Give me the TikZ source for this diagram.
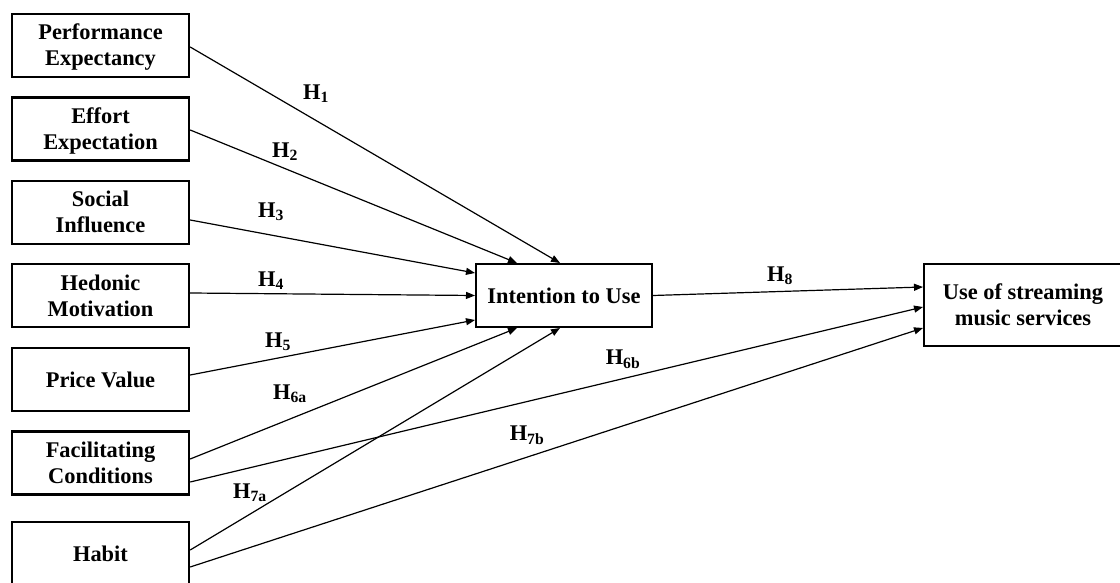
\documentclass[tikz,border=0pt]{standalone}
\usepackage{fontspec}
\setmainfont{Liberation Serif}
\usetikzlibrary{arrows.meta}

\tikzset{
  construct/.style={draw, line width=2.4pt, inner sep=0pt, align=center,
    minimum width=177pt, minimum height=63pt,
    text height=15pt, text depth=0pt,
    font=\bfseries\fontsize{22.4}{26}\selectfont},
  twolines/.style={text height=41pt, text depth=0pt},
  hyp/.style={inner sep=0pt, font=\bfseries\fontsize{22.4}{26}\selectfont},
  path/.style={line width=1.2pt, -{Triangle[length=9pt,width=7pt]}}
}

\begin{document}
\begin{tikzpicture}[x=1pt, y=-1pt]
  \clip (0,0) rectangle (1120,583);
  \fill[white] (0,0) rectangle (1120,583);

  % predictor constructs
  \node[construct, twolines] (pe) at (100.5,45.5)  {Performance\\Expectancy};
  \node[construct, twolines] (ee) at (100.5,129)   {Effort\\Expectation};
  \node[construct, twolines] (si) at (100.5,212.5) {Social\\Influence};
  \node[construct, twolines] (hm) at (100.5,295.5) {Hedonic\\Motivation};
  \node[construct] (pv) at (100.5,379.5) {Price Value};
  \node[construct, twolines] (fc) at (100.5,463)   {Facilitating\\Conditions};
  \node[construct] (hb) at (100.5,553.5) {Habit};

  % outcome constructs
  \node[construct, minimum width=175.6pt, minimum height=62.6pt] (iu) at (564,295.5) {Intention to Use};
  \node[construct, twolines, minimum width=197.6pt, minimum height=81.6pt] (us) at (1023,305) {Use of streaming\\music services};

  % hypothesised paths into intention
  \draw[path] ([yshift=-1.5pt]pe.east) -- ([xshift=-4pt]iu.north);
  \draw[path] ([yshift=-1pt]ee.east)   -- ([xshift=-47pt]iu.north);
  \draw[path] ([yshift=-7.5pt]si.east) -- ([yshift=22.5pt]iu.west);
  \draw[path] ([yshift=2.5pt]hm.east)  -- (iu.west);
  \draw[path] ([yshift=4.5pt]pv.east)  -- ([yshift=-24.5pt]iu.west);
  \draw[path] ([yshift=4pt]fc.east)    -- ([xshift=-47pt]iu.south);
  \draw[path] ([yshift=3.5pt]hb.east)  -- ([xshift=-4pt]iu.south);

  % paths into use behaviour
  \draw[path] (iu.east) -- ([yshift=18pt]us.west);
  \draw[path] ([yshift=-19pt]fc.east)   -- ([yshift=-2pt]us.west);
  \draw[path] ([yshift=-13.5pt]hb.east) -- ([yshift=-23pt]us.west);

  % hypothesis labels
  \node[hyp] (h1)  at (316,94)  {H\textsubscript{1}};
  \node[hyp] (h2)  at (285,152) {H\textsubscript{2}};
  \node[hyp] (h3)  at (271,212) {H\textsubscript{3}};
  \node[hyp] (h4)  at (271,281) {H\textsubscript{4}};
  \node[hyp] (h5)  at (278,342) {H\textsubscript{5}};
  \node[hyp] (h6a) at (290,394) {H\textsubscript{6a}};
  \node[hyp] (h6b) at (623,359) {H\textsubscript{6b}};
  \node[hyp] (h7a) at (250,493) {H\textsubscript{7a}};
  \node[hyp] (h7b) at (527,435) {H\textsubscript{7b}};
  \node[hyp] (h8)  at (780,276) {H\textsubscript{8}};
\end{tikzpicture}
\end{document}
